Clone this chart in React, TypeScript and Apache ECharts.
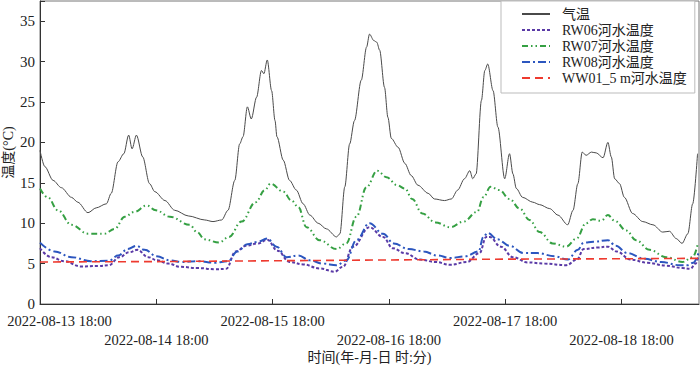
import React, { useEffect, useRef } from "react";
import * as echarts from "echarts";

// hours after 2022-08-13 18:00
const tickLabels = ["2022-08-13 18:00", "2022-08-14 18:00", "2022-08-15 18:00", "2022-08-16 18:00", "2022-08-17 18:00", "2022-08-18 18:00"];
const seriesNames = ["气温", "RW06河水温度", "RW07河水温度", "RW08河水温度", "WW01_5 m河水温度"];

const airHours = [0, 1, 2.7, 4.4, 6.5, 7.8, 9.9, 11.6, 13.7, 14.7, 16.1, 17.3, 18.3, 19.0, 19.9, 21.2, 22.6, 23.7, 25.8, 27.8, 30.6, 34.0, 35.7, 37.5, 38.8, 40.2, 41.2, 41.9, 42.8, 43.6, 44.7, 45.7, 46.2, 46.9, 47.8, 48.5, 48.9, 50.2, 51.5, 52.9, 54.3, 55.7, 57.4, 59.1, 61.2, 61.9, 62.9, 63.9, 64.9, 66.3, 67.4, 68.0, 68.9, 69.5, 70.1, 71.1, 71.8, 72.5, 73.9, 75.3, 76.6, 78.0, 80.1, 81.4, 83.5, 84.9, 86.2, 87.6, 88.7, 89.3, 90.0, 91.1, 91.8, 92.4, 93.5, 94.5, 95.9, 96.9, 97.6, 98.3, 99.6, 101.7, 103.1, 105.2, 106.9, 108.9, 110.0, 111.0, 111.9, 112.7, 113.8, 114.8, 116.2, 117.2, 117.9, 118.6, 119.6, 120.6, 122.3, 124.4, 126.5, 128.5, 129.9, 131.3, 132.5, 133.7, 134.7, 135.7];
const airTemp = [19.0, 17.0, 15.3, 14.4, 13.2, 12.6, 11.3, 11.9, 12.4, 13.7, 17.6, 18.6, 20.9, 19.2, 20.9, 18.2, 14.9, 13.9, 12.8, 11.6, 10.9, 10.4, 10.2, 10.4, 11.6, 15.3, 19.8, 20.7, 24.4, 22.9, 25.6, 28.9, 28.5, 30.2, 26.4, 22.7, 20.7, 17.8, 15.3, 14.1, 12.4, 11.0, 10.0, 9.3, 8.3, 8.7, 14.5, 19.8, 22.7, 27.7, 31.8, 33.4, 32.6, 32.4, 31.4, 26.8, 23.1, 20.5, 19.4, 17.4, 15.9, 14.7, 13.7, 13.0, 12.8, 13.0, 14.1, 15.5, 16.5, 15.5, 16.1, 25.2, 28.9, 29.7, 26.4, 21.9, 15.5, 18.6, 16.1, 14.3, 13.2, 12.6, 12.3, 11.8, 11.0, 9.8, 11.6, 14.9, 18.8, 18.4, 18.8, 18.7, 18.1, 20.0, 18.2, 15.5, 14.9, 13.2, 11.2, 10.2, 9.8, 8.9, 9.0, 8.1, 7.5, 8.7, 12.4, 18.6];

const rw06Hours = [0, 2.3, 5.0, 8.4, 12.0, 14.2, 16.4, 18.4, 20.1, 22.3, 24.2, 26.5, 28.9, 32.6, 36.1, 38.4, 40.4, 42.5, 45.0, 46.9, 49.0, 51.5, 54.3, 57.7, 60.8, 62.5, 64.6, 68.0, 70.8, 72.8, 75.3, 78.4, 81.6, 84.7, 88.1, 90.7, 92.1, 92.8, 95.1, 97.6, 100.6, 104.1, 108.6, 110.8, 112.2, 115.1, 117.2, 119.0, 121.9, 125.4, 129.2, 132.6, 134.2, 135.3, 135.9];
const rw06Temp = [6.9, 5.8, 5.3, 4.65, 4.7, 4.8, 5.8, 6.4, 6.7, 5.8, 5.4, 5.0, 4.6, 4.45, 4.3, 4.35, 6.5, 7.2, 7.5, 7.95, 6.6, 5.2, 4.9, 4.4, 4.0, 4.6, 7.1, 9.5, 8.3, 6.9, 6.3, 5.5, 5.2, 4.85, 5.2, 6.3, 8.3, 8.3, 7.1, 5.8, 5.15, 5.0, 4.8, 5.5, 6.8, 7.0, 7.1, 6.5, 5.5, 5.1, 4.75, 4.45, 4.35, 5.0, 6.0];

const rw07Hours = [0, 1.6, 3.7, 6.5, 9.9, 13.3, 15.4, 17.5, 19.5, 22.0, 23.9, 26.8, 30.9, 32.4, 34.0, 36.9, 39.0, 41.6, 44.5, 46.4, 47.6, 50.2, 51.9, 53.3, 55.0, 57.7, 61.2, 63.2, 65.3, 67.4, 69.6, 71.5, 73.7, 75.3, 76.8, 78.9, 81.6, 84.7, 87.4, 90.2, 91.5, 93.0, 94.8, 96.9, 99.0, 101.0, 103.1, 105.8, 108.6, 110.7, 112.7, 114.1, 115.8, 117.2, 118.6, 121.0, 123.0, 125.8, 129.2, 132.6, 134.7, 135.7];
const rw07Temp = [14.3, 13.2, 11.6, 9.8, 8.7, 8.7, 9.3, 10.8, 11.4, 12.2, 11.6, 10.8, 9.8, 8.9, 8.0, 7.6, 8.3, 10.2, 12.6, 14.1, 14.9, 13.9, 12.8, 12.0, 9.5, 7.9, 6.8, 7.5, 10.8, 14.5, 16.5, 15.7, 14.7, 14.3, 13.0, 11.2, 10.1, 9.5, 10.2, 11.4, 13.2, 14.5, 14.1, 13.0, 11.8, 10.4, 8.9, 7.5, 7.1, 8.1, 10.0, 10.5, 10.3, 11.0, 10.3, 9.1, 7.9, 6.7, 5.8, 5.2, 5.8, 7.3];

const rw08Hours = [0, 3.0, 6.5, 10.5, 14.2, 16.1, 18.1, 19.9, 21.6, 24.1, 26.8, 29.3, 32.6, 36.1, 38.8, 40.7, 42.8, 45.0, 46.9, 48.8, 50.9, 53.3, 55.7, 58.4, 61.2, 63.2, 65.3, 68.0, 70.8, 73.0, 76.1, 79.2, 82.0, 84.7, 87.8, 90.5, 91.5, 92.4, 94.4, 96.9, 99.8, 102.7, 106.2, 108.9, 111.0, 112.2, 114.2, 117.2, 118.8, 121.2, 124.7, 128.2, 132.0, 133.6, 134.8, 135.9];
const rw08Temp = [7.6, 6.5, 5.8, 5.3, 5.35, 6.0, 6.8, 7.2, 6.7, 5.9, 5.4, 5.2, 5.3, 5.1, 5.3, 6.5, 7.4, 7.7, 8.1, 7.1, 5.8, 6.0, 5.4, 5.0, 4.8, 5.4, 7.9, 10.0, 8.7, 7.5, 6.8, 6.5, 6.0, 5.7, 5.9, 6.5, 8.3, 8.8, 8.0, 7.2, 6.3, 6.3, 5.9, 5.5, 6.7, 7.6, 7.7, 7.9, 7.2, 6.3, 5.6, 5.2, 4.8, 4.8, 5.1, 6.3];

const ww01Hours = [0, 24, 48, 72, 96, 120, 136];
const ww01Temp = [5.2, 5.25, 5.35, 5.45, 5.55, 5.6, 5.65];

const FONT = "'Times New Roman', 'Liberation Serif', 'Noto Sans CJK SC', serif";
const LBL = { fontFamily: FONT, fontSize: 14.5, color: "#222" };

function pairs(h: number[], v: number[]) {
  return h.map((x, i) => [x, v[i]]);
}

export default function App() {
  const ref = useRef<HTMLDivElement>(null);
  useEffect(() => {
    if (!ref.current) return;
    const chart = echarts.init(ref.current, undefined, { renderer: "svg" });
    const mk = (name: string, data: number[][], color: string, width: number, type: any, smooth: number) => ({
      name,
      type: "line",
      xAxisIndex: 0,
      data,
      symbol: "none",
      showSymbol: false,
      smooth,
      smoothMonotone: "x",
      lineStyle: { color, width, type },
      itemStyle: { color },
    });
    const labelFor = (parity: number) => (v: number) => {
      if (v % 24 !== 0) return "";
      const i = Math.round(v / 24);
      const s = tickLabels[i];
      if (!s || i % 2 !== parity) return "";
      return i === 0 ? "{first|" + s + "}" : s;
    };
    const baseX = {
      type: "value",
      min: 0,
      max: 136,
      interval: 24,
      position: "bottom",
      splitLine: { show: false },
    };
    chart.setOption({
      animation: false,
      backgroundColor: "#fff",
      textStyle: { fontFamily: FONT },
      grid: {
        left: 40, right: 1, top: 1, bottom: 70, show: true, borderColor: "#777", borderWidth: 1,
        backgroundColor: "transparent", containLabel: false, outerBoundsMode: "none",
      },
      legend: {
        orient: "vertical",
        left: 501,
        top: 1,
        padding: [6, 8, 8, 20],
        borderColor: "#bbb",
        borderWidth: 1,
        backgroundColor: "#fff",
        itemWidth: 28,
        itemHeight: 10,
        itemGap: 2,
        itemStyle: { opacity: 0 },
        formatter: (name: string) => "{a|" + name + "}",
        textStyle: {
          fontFamily: FONT, fontSize: 14, color: "#222", lineHeight: 14,
          rich: { a: { padding: [0, 0, 0, 7], fontFamily: FONT, fontSize: 14, color: "#222", lineHeight: 14 } },
        },
        data: seriesNames,
      },
      xAxis: [
        {
          ...baseX,
          name: "时间(年-月-日 时:分)",
          nameLocation: "middle",
          nameGap: 46,
          nameMoveOverlap: false,
          nameTextStyle: { fontFamily: FONT, fontSize: 14, color: "#222" },
          axisLine: { show: true, onZero: false, lineStyle: { color: "#333", width: 1 } },
          axisTick: { show: true, inside: true, length: 5, lineStyle: { color: "#333" } },
          axisLabel: {
            ...LBL,
            margin: 10,
            showMinLabel: true,
            showMaxLabel: false,
            formatter: labelFor(0),
            rich: { first: { ...LBL, padding: [0, 0, 0, 39] } },
          },
        },
        {
          ...baseX,
          axisLine: { show: false, onZero: false },
          axisTick: { show: false },
          axisLabel: { ...LBL, margin: 29, showMinLabel: true, showMaxLabel: false, formatter: labelFor(1) },
        },
      ],
      yAxis: {
        type: "value",
        min: 0,
        max: 37.5,
        interval: 5,
        name: "温度(°C)",
        nameLocation: "middle",
        nameGap: 25,
        nameMoveOverlap: false,
        nameTextStyle: { fontFamily: FONT, fontSize: 14, color: "#222" },
        splitLine: { show: false },
        axisLine: { show: true, lineStyle: { color: "#333", width: 1 } },
        axisTick: { show: true, inside: true, length: 5, lineStyle: { color: "#333" } },
        axisLabel: {
          margin: 5,
          fontFamily: FONT,
          fontSize: 15,
          color: "#222",
          formatter: (v: number) => (v % 5 === 0 ? String(v) : ""),
        },
      },
      series: [
        mk(seriesNames[0], pairs(airHours, airTemp), "#4a4a4a", 1, "solid", 0.3),
        mk(seriesNames[1], pairs(rw06Hours, rw06Temp), "#5a3aa6", 2, [3, 2], 0.4),
        mk(seriesNames[2], pairs(rw07Hours, rw07Temp), "#35a043", 2, [6, 3, 1.5, 3, 1.5, 3], 0.4),
        mk(seriesNames[3], pairs(rw08Hours, rw08Temp), "#2c56bf", 2, [8, 3, 2, 3], 0.4),
        mk(seriesNames[4], pairs(ww01Hours, ww01Temp), "#ee3a2f", 1.6, [8, 5], 0),
      ],
    });
    return () => chart.dispose();
  }, []);
  return <div ref={ref} style={{ position: "absolute", left: 0, top: 0, width: 700, height: 374 }} />;
}
